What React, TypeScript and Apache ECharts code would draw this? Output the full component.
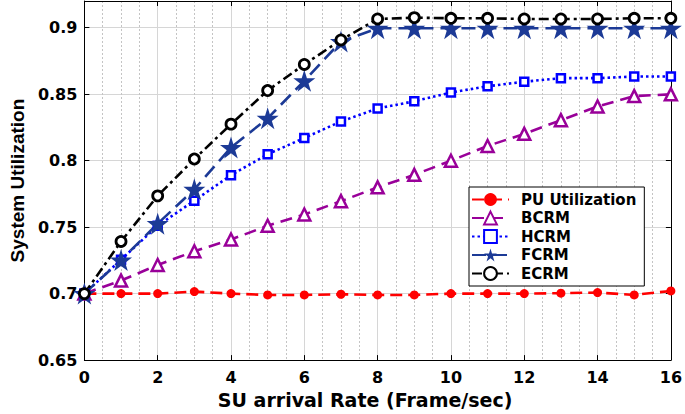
import React, { useEffect, useRef } from "react";
import * as echarts from "echarts";

const xValues = [0, 1, 2, 3, 4, 5, 6, 7, 8, 9, 10, 11, 12, 13, 14, 15, 16];
const puUtil = [0.7, 0.7, 0.7, 0.7015, 0.7, 0.699, 0.699, 0.6995, 0.699, 0.699, 0.7, 0.7, 0.7, 0.7003, 0.7008, 0.699, 0.702];
const bcrm = [0.7, 0.7098, 0.7215, 0.7318, 0.7407, 0.751, 0.7595, 0.7695, 0.7799, 0.7893, 0.7999, 0.811, 0.8201, 0.8304, 0.8407, 0.8485, 0.8498];
const hcrm = [0.7, 0.7255, 0.751, 0.7699, 0.789, 0.8048, 0.817, 0.8294, 0.8392, 0.8446, 0.8512, 0.8559, 0.8593, 0.862, 0.862, 0.8632, 0.8632];
const fcrm = [0.7, 0.7252, 0.7526, 0.7784, 0.8098, 0.8318, 0.86, 0.8895, 0.8995, 0.8995, 0.8995, 0.8995, 0.8995, 0.8995, 0.8995, 0.8995, 0.8995];
const ecrm = [0.7, 0.7392, 0.7735, 0.8012, 0.8274, 0.8527, 0.8723, 0.8907, 0.9065, 0.9075, 0.907, 0.907, 0.9065, 0.9065, 0.9065, 0.907, 0.907];
const seriesNames = ["PU Utilization", "BCRM", "HCRM", "FCRM", "ECRM"];
const xTitle = "SU arrival Rate (Frame/sec)";
const yTitle = "System Utilization";

const pairs = (ys: number[]) => xValues.map((x, i) => [x, ys[i]]);

export default function App() {
  const ref = useRef<HTMLDivElement>(null);
  useEffect(() => {
    if (!ref.current) return;
    const chart = echarts.init(ref.current, undefined, { renderer: "svg" });
    const tickFont = {
      fontFamily: "DejaVu Sans",
      fontWeight: "bold" as const,
      fontSize: 16,
      color: "#000",
    };
    const mk = (
      name: string,
      ys: number[],
      color: string,
      dash: number[],
      symbol: string,
      size: number,
      fill: string,
      bw: number
    ) => ({
      type: "line",
      name,
      data: pairs(ys),
      symbol,
      symbolSize: size,
      showAllSymbol: true,
      lineStyle: { color, width: 2.6, type: dash },
      itemStyle: { color: fill, borderColor: color, borderWidth: bw },
      emphasis: { disabled: true },
      z: 3,
    });
    chart.setOption({
      animation: false,
      backgroundColor: "#fff",
      grid: { left: 74, right: 12, top: 1, bottom: 47, containLabel: false },
      legend: {
        orient: "vertical",
        left: 469,
        top: 187,
        width: 176,
        itemWidth: 37,
        itemHeight: 16,
        itemGap: 3.5,
        padding: [5, 8, 5, 2],
        backgroundColor: "#fff",
        borderColor: "#000",
        borderWidth: 1,
        borderRadius: 0,
        data: seriesNames,
        textStyle: {
          fontFamily: "DejaVu Sans",
          fontWeight: "bold",
          fontSize: 15,
          color: "#000",
          padding: [0, 0, 0, 7],
        },
      },
      xAxis: [
        {
          type: "value",
          min: 0,
          max: 16,
          interval: 2,
          name: xTitle,
          nameLocation: "middle",
          nameGap: 25,
          nameTextStyle: {
            fontFamily: "DejaVu Sans",
            fontWeight: "bold",
            fontSize: 19,
            color: "#000",
            padding: [0, 25, 0, 0],
          },
          axisLine: { show: true, onZero: false, lineStyle: { color: "#000", width: 1 } },
          axisTick: { show: true, inside: true, length: 5, lineStyle: { color: "#000" } },
          axisLabel: { ...tickFont, margin: 9 },
          splitLine: { show: true, lineStyle: { color: "#d6d6d6", width: 1 } },
          minorTick: { show: false, splitNumber: 4 },
          minorSplitLine: { show: true, lineStyle: { color: "#c4c4c4", width: 1, type: [2, 2] } },
        },
        {
          type: "value",
          position: "top",
          min: 0,
          max: 16,
          interval: 2,
          axisLine: { show: true, onZero: false, lineStyle: { color: "#000", width: 1 } },
          axisTick: { show: true, inside: true, length: 5, lineStyle: { color: "#000" } },
          axisLabel: { show: false },
          splitLine: { show: false },
        },
      ],
      yAxis: [
        {
          type: "value",
          min: 0.65,
          max: 0.92,
          interval: 0.05,
          name: yTitle,
          nameLocation: "middle",
          nameGap: 54,
          nameTextStyle: {
            fontFamily: "Liberation Sans",
            fontWeight: "bold",
            fontSize: 19,
            color: "#000",
          },
          axisLine: { show: true, onZero: false, lineStyle: { color: "#000", width: 1 } },
          axisTick: { show: true, inside: true, length: 5, lineStyle: { color: "#000" } },
          axisLabel: {
            ...tickFont,
            margin: 7,
            showMaxLabel: false,
            formatter: (v: number) => {
              const k = v / 0.05;
              if (Math.abs(k - Math.round(k)) > 1e-6) return "";
              return String(Math.round(v * 100) / 100);
            },
          },
          splitLine: { show: true, lineStyle: { color: "#d6d6d6", width: 1 } },
        },
        {
          type: "value",
          position: "right",
          min: 0.65,
          max: 0.92,
          interval: 0.05,
          axisLine: { show: true, onZero: false, lineStyle: { color: "#000", width: 1 } },
          axisTick: { show: true, inside: true, length: 5, lineStyle: { color: "#000" } },
          axisLabel: { show: false },
          splitLine: { show: false },
        },
      ],
      series: [
        mk(seriesNames[0], puUtil, "#ff0000", [12, 6], "circle", 9, "#ff0000", 0),
        mk(seriesNames[1], bcrm, "#990099", [12, 7], "triangle", 12, "#ffffff", 2.5),
        mk(seriesNames[2], hcrm, "#0000ff", [2.5, 3], "rect", 8, "#ffffff", 2.5),
        mk(seriesNames[3], fcrm, "#1c3a96", [14, 7], "path://M50,0 L61.8,36.3 L100,36.3 L69.1,58.8 L80.9,95.1 L50,72.6 L19.1,95.1 L30.9,58.8 L0,36.3 L38.2,36.3 Z", 22, "#1c3a96", 0),
        mk(seriesNames[4], ecrm, "#000000", [10, 4, 3, 4], "circle", 10, "#ffffff", 2.8),
      ],
    });
    return () => chart.dispose();
  }, []);
  return <div ref={ref} style={{ width: 685, height: 414, position: "absolute", left: 0, top: 0 }} />;
}
